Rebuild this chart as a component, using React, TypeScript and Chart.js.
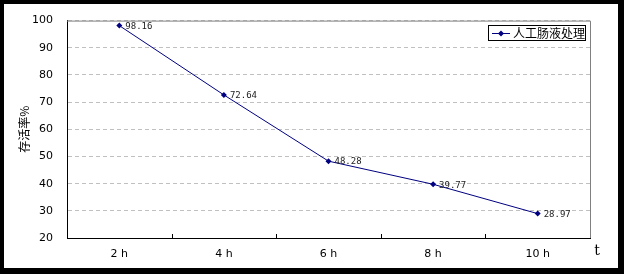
import React, { useEffect, useRef } from "react";
import { Chart, registerables } from "chart.js";

Chart.register(...registerables);

const categories = ["2 h", "4 h", "6 h", "8 h", "10 h"];
const survival = [98.16, 72.64, 48.28, 39.77, 28.97];
const seriesName = "人工肠液处理";
const yTitle = "存活率%";
const xTitle = "t";
const yMin = 20;
const yMax = 100;
const yStep = 10;

const NAVY = "#000080";

const framePlugin = {
  id: "frame",
  beforeDraw(chart: any) {
    const { ctx, width, height } = chart;
    ctx.save();
    ctx.fillStyle = "#000";
    ctx.fillRect(0, 0, width, height);
    ctx.fillStyle = "#fff";
    ctx.fillRect(4, 4, width - 10, height - 10);
    ctx.restore();
  },
  afterDatasetsDraw(chart: any) {
    const { ctx, chartArea } = chart;
    const xs = chart.scales.x;
    ctx.save();
    // gray top and right border
    ctx.strokeStyle = "#808080";
    ctx.lineWidth = 1;
    ctx.beginPath();
    ctx.moveTo(chartArea.left, chartArea.top + 0.5);
    ctx.lineTo(chartArea.right + 0.5, chartArea.top + 0.5);
    ctx.lineTo(chartArea.right + 0.5, chartArea.bottom);
    ctx.stroke();
    // inward tick marks between categories
    ctx.strokeStyle = "#000";
    const half = (xs.getPixelForValue(1) - xs.getPixelForValue(0)) / 2;
    for (let i = 1; i < categories.length; i++) {
      const px = Math.round(xs.getPixelForValue(i) - half) + 0.5;
      ctx.beginPath();
      ctx.moveTo(px, chartArea.bottom);
      ctx.lineTo(px, chartArea.bottom - 4);
      ctx.stroke();
    }
    // data labels
    const meta = chart.getDatasetMeta(0);
    ctx.font = "9px 'DejaVu Sans Mono'";
    ctx.fillStyle = "#222";
    ctx.textAlign = "left";
    ctx.textBaseline = "middle";
    meta.data.forEach((pt: any, i: number) => {
      ctx.fillText(survival[i].toFixed(2), pt.x + 6, pt.y + 1);
    });
    // y title
    ctx.save();
    ctx.translate(24, (chartArea.top + chartArea.bottom) / 2 + 0);
    ctx.rotate(-Math.PI / 2);
    ctx.font = "12px 'Noto Sans CJK SC'";
    ctx.fillStyle = "#000";
    ctx.textAlign = "center";
    ctx.textBaseline = "middle";
    ctx.fillText(yTitle, 0, 0);
    ctx.restore();
    // x title
    ctx.font = "14px 'DejaVu Serif'";
    ctx.fillStyle = "#000";
    ctx.textAlign = "center";
    ctx.textBaseline = "middle";
    ctx.fillText(xTitle, 597, 251);
    // legend
    const lx = 488, ly = 25, lw = 97, lh = 15;
    ctx.fillStyle = "#fff";
    ctx.fillRect(lx, ly, lw, lh);
    ctx.strokeStyle = "#000";
    ctx.lineWidth = 1;
    ctx.strokeRect(lx + 0.5, ly + 0.5, lw, lh);
    ctx.strokeStyle = NAVY;
    ctx.beginPath();
    ctx.moveTo(lx + 4, ly + 8.5);
    ctx.lineTo(lx + 22, ly + 8.5);
    ctx.stroke();
    ctx.fillStyle = NAVY;
    ctx.beginPath();
    const cx = lx + 13, cy = ly + 8.5;
    ctx.moveTo(cx, cy - 3);
    ctx.lineTo(cx + 3, cy);
    ctx.lineTo(cx, cy + 3);
    ctx.lineTo(cx - 3, cy);
    ctx.closePath();
    ctx.fill();
    ctx.font = "12px 'Noto Sans CJK SC'";
    ctx.fillStyle = "#000";
    ctx.textAlign = "left";
    ctx.textBaseline = "middle";
    ctx.fillText(seriesName, lx + 25, ly + 8.5);
    ctx.restore();
  },
};

export default function App() {
  const ref = useRef<HTMLCanvasElement>(null);
  useEffect(() => {
    document.body.style.margin = "0";
    const chart = new Chart(ref.current!, {
      type: "line",
      data: {
        labels: categories,
        datasets: [
          {
            label: seriesName,
            data: survival,
            borderColor: NAVY,
            backgroundColor: NAVY,
            borderWidth: 1,
            pointStyle: "rectRot",
            pointRadius: 3,
            pointBorderWidth: 0,
            tension: 0,
          },
        ],
      },
      options: {
        animation: false,
        responsive: false,
        layout: { padding: { left: 0, top: 20, right: 34, bottom: 0 } },
        plugins: { legend: { display: false }, tooltip: { enabled: false } },
        scales: {
          x: {
            offset: true,
            grid: { display: false, drawTicks: false },
            border: { color: "#000", width: 1 },
            ticks: {
              color: "#000",
              font: { family: "'DejaVu Sans'", size: 11 },
              padding: 10,
              maxRotation: 0,
            },
            afterFit(scale: any) {
              scale.height = 36;
            },
          },
          y: {
            min: yMin,
            max: yMax,
            ticks: {
              stepSize: yStep,
              color: "#000",
              font: { family: "'DejaVu Sans'", size: 11 },
              padding: 14,
            },
            grid: { color: "#c0c0c0", drawTicks: false, lineWidth: 1 },
            border: { color: "#000", width: 1, dash: [4, 3] },
            afterFit(scale: any) {
              scale.width = 67;
            },
          },
        },
      },
      plugins: [framePlugin],
    });
    return () => chart.destroy();
  }, []);
  return <canvas ref={ref} width={624} height={274} style={{ display: "block" }} />;
}
